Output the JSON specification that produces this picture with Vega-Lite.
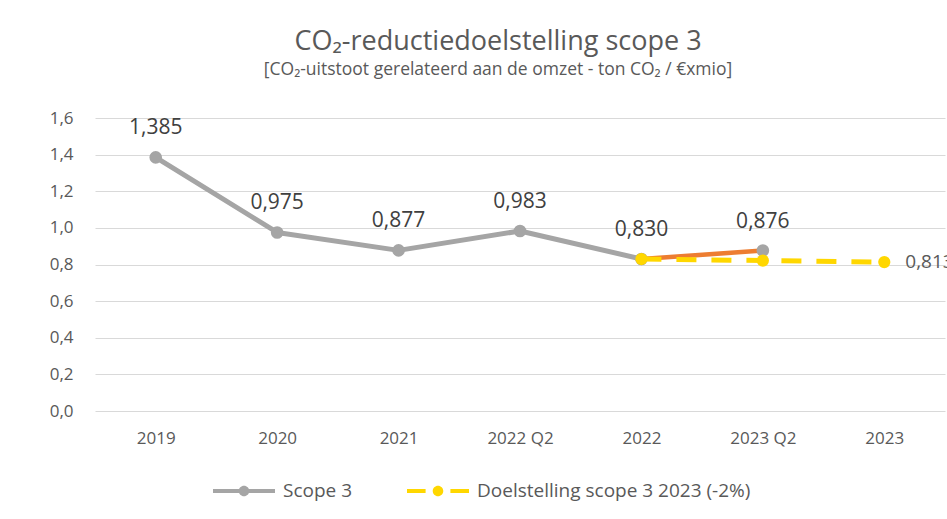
{
  "$schema": "https://vega.github.io/schema/vega-lite/v6.json",
  "autosize": {"type": "none"},
  "width": 850,
  "height": 293,
  "padding": {"left": 95, "top": 118, "right": 2, "bottom": 108},
  "background": "white",
  "config": {
    "locale": {"number": {"decimal": ",", "thousands": ".", "grouping": [3], "currency": ["€", ""]}},
    "font": "Open Sans",
    "view": {"stroke": null}
  },
  "title": {
    "text": "CO₂-reductiedoelstelling scope 3",
    "subtitle": "[CO₂-uitstoot gerelateerd aan de omzet - ton CO₂ / €xmio]",
    "anchor": "middle",
    "dx": -22,
    "offset": 30,
    "fontSize": 27,
    "fontWeight": "normal",
    "color": "#595959",
    "subtitleFontSize": 17.5,
    "subtitleColor": "#595959",
    "subtitlePadding": 5,
    "font": "Open Sans",
    "subtitleFont": "Open Sans"
  },
  "datasets": {
    "scope3": [
      {"periode": "2019", "serie": "Scope 3", "waarde": 1.385},
      {"periode": "2020", "serie": "Scope 3", "waarde": 0.975},
      {"periode": "2021", "serie": "Scope 3", "waarde": 0.877},
      {"periode": "2022 Q2", "serie": "Scope 3", "waarde": 0.983},
      {"periode": "2022", "serie": "Scope 3", "waarde": 0.830},
      {"periode": "2023 Q2", "serie": "Scope 3", "waarde": 0.876}
    ],
    "trend": [
      {"periode": "2022", "waarde": 0.830},
      {"periode": "2023 Q2", "waarde": 0.876}
    ],
    "doel": [
      {"periode": "2022", "serie": "Doelstelling scope 3 2023 (-2%)", "waarde": 0.830},
      {"periode": "2023 Q2", "serie": "Doelstelling scope 3 2023 (-2%)", "waarde": 0.8215},
      {"periode": "2023", "serie": "Doelstelling scope 3 2023 (-2%)", "waarde": 0.813}
    ],
    "legenda": [
      {"periode": "2019", "serie": "Scope 3", "waarde": 0.5},
      {"periode": "2019", "serie": "Doelstelling scope 3 2023 (-2%)", "waarde": 0.5}
    ]
  },
  "encoding": {
    "x": {
      "field": "periode",
      "type": "nominal",
      "sort": ["2019", "2020", "2021", "2022 Q2", "2022", "2023 Q2", "2023"],
      "scale": {"type": "point", "padding": 0.5, "domain": ["2019", "2020", "2021", "2022 Q2", "2022", "2023 Q2", "2023"]},
      "axis": {
        "title": null,
        "labelAngle": 0,
        "domain": false,
        "ticks": false,
        "labelPadding": 19,
        "labelFontSize": 17,
        "labelColor": "#595959",
        "labelFont": "Open Sans"
      }
    },
    "y": {
      "field": "waarde",
      "type": "quantitative",
      "scale": {"domain": [0, 1.6], "nice": false, "zero": true},
      "axis": {
        "title": null,
        "values": [0, 0.2, 0.4, 0.6, 0.8, 1.0, 1.2, 1.4, 1.6],
        "format": ".1f",
        "domain": false,
        "ticks": false,
        "labelPadding": 22,
        "labelFontSize": 17,
        "labelColor": "#595959",
        "labelFont": "Open Sans",
        "gridColor": "#D9D9D9",
        "gridWidth": 1
      }
    }
  },
  "layer": [
    {
      "data": {"name": "scope3"},
      "transform": [{"filter": "datum.periode != '2023 Q2'"}],
      "mark": {"type": "line", "color": "#A5A5A5", "strokeWidth": 5, "strokeJoin": "round", "strokeCap": "round"}
    },
    {
      "data": {"name": "trend"},
      "mark": {"type": "line", "color": "#ED7D31", "strokeWidth": 4.5, "strokeCap": "round"}
    },
    {
      "data": {"name": "scope3"},
      "mark": {"type": "point", "filled": true, "opacity": 1, "size": 160, "color": "#A5A5A5"}
    },
    {
      "data": {"name": "doel"},
      "mark": {"type": "line", "color": "#FFD700", "strokeWidth": 5, "strokeDash": [20, 15]}
    },
    {
      "data": {"name": "doel"},
      "mark": {"type": "point", "filled": true, "opacity": 1, "size": 150, "color": "#FFD700"}
    },
    {
      "data": {"name": "scope3"},
      "mark": {"type": "text", "dy": -29, "baseline": "middle", "fontSize": 21, "color": "#404040", "font": "Open Sans"},
      "encoding": {"text": {"field": "waarde", "type": "quantitative", "format": ".3f"}}
    },
    {
      "data": {"name": "doel"},
      "transform": [{"filter": "datum.periode == '2023'"}],
      "mark": {"type": "text", "dx": 21, "align": "left", "baseline": "middle", "fontSize": 19, "color": "#595959", "font": "Open Sans"},
      "encoding": {"text": {"field": "waarde", "type": "quantitative", "format": ".3f"}}
    },
    {
      "data": {"name": "legenda"},
      "mark": {"type": "point", "filled": true, "opacity": 0, "size": 3844},
      "encoding": {
        "color": {
          "field": "serie",
          "type": "nominal",
          "scale": {"domain": ["Scope 3", "Doelstelling scope 3 2023 (-2%)"], "range": ["#A5A5A5", "#FFD700"]},
          "legend": {
            "title": null,
            "orient": "none",
            "legendX": 118,
            "legendY": 342,
            "direction": "horizontal",
            "labelFontSize": 19,
            "labelColor": "#595959",
            "labelFont": "Open Sans",
            "labelOffset": 8,
            "labelLimit": 0,
            "columnPadding": 54,
            "symbolSize": 3844,
            "symbolStrokeWidth": 0,
            "padding": 0,
            "encode": {"symbols": {"update": {"opacity": {"value": 1}, "fillOpacity": {"value": 1}}}}
          }
        },
        "shape": {
          "field": "serie",
          "type": "nominal",
          "scale": {
            "domain": ["Scope 3", "Doelstelling scope 3 2023 (-2%)"],
            "range": [
              "M-1,-0.065H1V0.065H-1Z M0.17,0A0.17,0.17 0 1,1 -0.17,0A0.17,0.17 0 1,1 0.17,0Z",
              "M-1,-0.065H-0.4V0.065H-1Z M0.4,-0.065H1V0.065H0.4Z M0.17,0A0.17,0.17 0 1,1 -0.17,0A0.17,0.17 0 1,1 0.17,0Z"
            ]
          }
        }
      }
    }
  ]
}
